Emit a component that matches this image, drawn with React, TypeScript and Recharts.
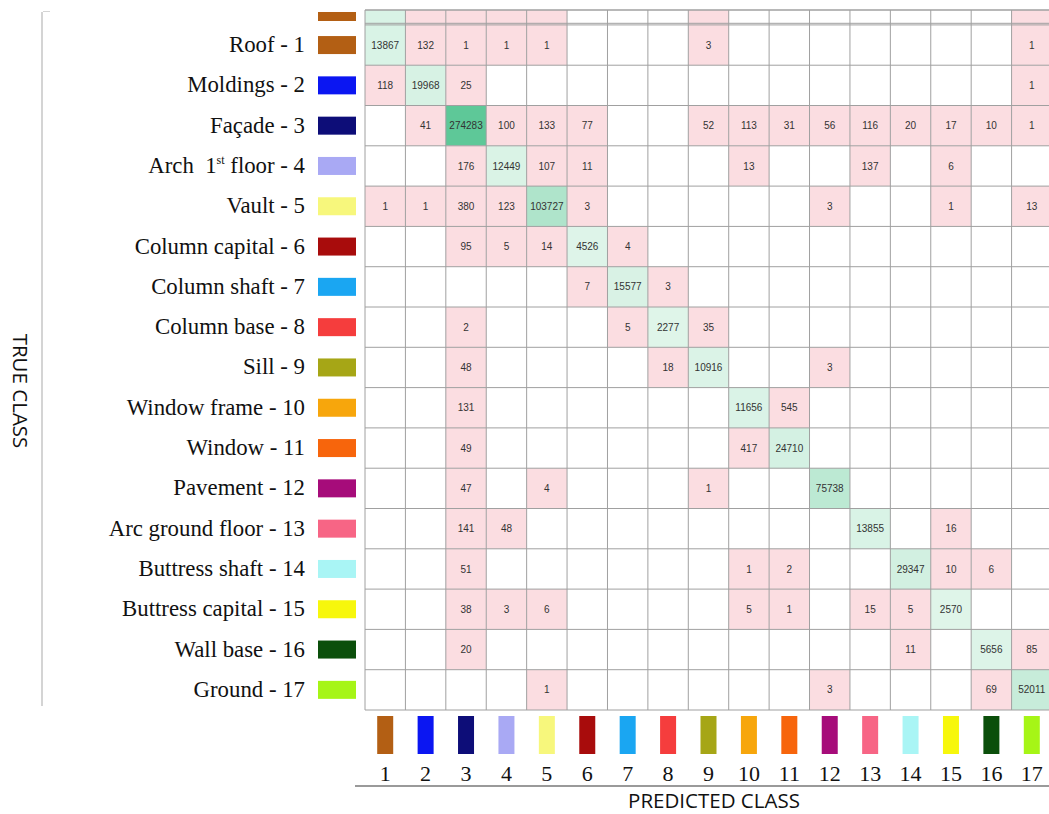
import React from "react"
import { ScatterChart, Scatter, XAxis, YAxis, ReferenceArea, ReferenceLine } from "recharts"

// true class labels (rows) and predicted class ids (columns)
const classNames = [
  "Roof - 1",
  "Moldings - 2",
  "Façade - 3",
  "Arch\u00a0 1st floor - 4",
  "Vault - 5",
  "Column capital - 6",
  "Column shaft - 7",
  "Column base - 8",
  "Sill - 9",
  "Window frame - 10",
  "Window - 11",
  "Pavement - 12",
  "Arc ground floor - 13",
  "Buttress shaft - 14",
  "Buttress capital - 15",
  "Wall base - 16",
  "Ground - 17",
]

const classIds = [1, 2, 3, 4, 5, 6, 7, 8, 9, 10, 11, 12, 13, 14, 15, 16, 17]

const classColors = [
  "#b35f14", "#0b16f2", "#0d0d78", "#a9a9f4", "#f7f77c", "#a80c0c",
  "#1aa6f2", "#f53d3d", "#a6a616", "#f7a60c", "#f7650c", "#a60c7a",
  "#f76585", "#a9f5f5", "#f7f70c", "#0b4f0b", "#a6f516",
]

// rows = true class, columns = predicted class, 0 = empty cell
const confusion = [
  [13867, 132, 1, 1, 1, 0, 0, 0, 3, 0, 0, 0, 0, 0, 0, 0, 1],
  [118, 19968, 25, 0, 0, 0, 0, 0, 0, 0, 0, 0, 0, 0, 0, 0, 1],
  [0, 41, 274283, 100, 133, 77, 0, 0, 52, 113, 31, 56, 116, 20, 17, 10, 1],
  [0, 0, 176, 12449, 107, 11, 0, 0, 0, 13, 0, 0, 137, 0, 6, 0, 0],
  [1, 1, 380, 123, 103727, 3, 0, 0, 0, 0, 0, 3, 0, 0, 1, 0, 13],
  [0, 0, 95, 5, 14, 4526, 4, 0, 0, 0, 0, 0, 0, 0, 0, 0, 0],
  [0, 0, 0, 0, 0, 7, 15577, 3, 0, 0, 0, 0, 0, 0, 0, 0, 0],
  [0, 0, 2, 0, 0, 0, 5, 2277, 35, 0, 0, 0, 0, 0, 0, 0, 0],
  [0, 0, 48, 0, 0, 0, 0, 18, 10916, 0, 0, 3, 0, 0, 0, 0, 0],
  [0, 0, 131, 0, 0, 0, 0, 0, 0, 11656, 545, 0, 0, 0, 0, 0, 0],
  [0, 0, 49, 0, 0, 0, 0, 0, 0, 417, 24710, 0, 0, 0, 0, 0, 0],
  [0, 0, 47, 0, 4, 0, 0, 0, 1, 0, 0, 75738, 0, 0, 0, 0, 0],
  [0, 0, 141, 48, 0, 0, 0, 0, 0, 0, 0, 0, 13855, 0, 16, 0, 0],
  [0, 0, 51, 0, 0, 0, 0, 0, 0, 1, 2, 0, 0, 29347, 10, 6, 0],
  [0, 0, 38, 3, 6, 0, 0, 0, 0, 5, 1, 0, 15, 5, 2570, 0, 0],
  [0, 0, 20, 0, 0, 0, 0, 0, 0, 0, 0, 0, 0, 11, 0, 5656, 85],
  [0, 0, 0, 0, 1, 0, 0, 0, 0, 0, 0, 3, 0, 0, 0, 69, 52011],
]

// the picture is cropped: a sliver of the first row shows again above the table
const Y_MIN = 0.13

const cells = confusion.flatMap((row, r) =>
  row.map((v, c) => ({ t: r + 1, p: c + 1, v })).filter((d) => d.v > 0)
)
const maxDiag = Math.max(...confusion.map((row, i) => row[i]))

function mix(a: number[], b: number[], k: number) {
  const ch = a.map((x, i) => Math.round(x + (b[i] - x) * k))
  return `rgb(${ch[0]},${ch[1]},${ch[2]})`
}

function cellFill(d: { t: number; p: number; v: number }) {
  if (d.t !== d.p) return "#fbdde1"
  return mix([224, 245, 234], [94, 200, 152], d.v / maxDiag)
}

const boundaries = [0.5, ...classIds.map((i) => i + 0.5)]

function TrueClassTick(props: any) {
  const { x, y, payload } = props
  const i = payload.value - 1
  const name = classNames[i]
  const m = name.match(/^(.*?\d)(st)(.*)$/)
  return (
    <g>
      <text
        x={x - 60}
        y={y}
        dy={7}
        textAnchor="end"
        fontFamily="'Liberation Serif', serif"
        fontSize={22.8}
        fill="#111"
        style={{ whiteSpace: "pre" }}
      >
        {m ? (
          <>
            {m[1]}
            <tspan fontSize={12} dy={-9}>{m[2]}</tspan>
            <tspan dy={9}>{m[3]}</tspan>
          </>
        ) : (
          name
        )}
      </text>
      <rect x={x - 47} y={y - 9} width={38} height={18} fill={classColors[i]} />
    </g>
  )
}

function PredictedTick(props: any) {
  const { x, y, payload } = props
  const i = payload.value - 1
  return (
    <g>
      <rect x={x - 8} y={y + 6} width={16} height={38} fill={classColors[i]} />
      <text
        x={x}
        y={y + 71}
        textAnchor="middle"
        fontFamily="'Liberation Serif', serif"
        fontSize={22}
        fill="#111"
      >
        {payload.value}
      </text>
    </g>
  )
}

export default function App() {
  return (
    <div
      style={{
        position: "absolute",
        left: 0,
        top: 0,
        width: 1049,
        height: 814,
        overflow: "hidden",
        background: "#fff",
      }}
    >
      <ScatterChart width={1052} height={814} margin={{ top: 10, right: 0, bottom: 0, left: 0 }}>
        <XAxis
          type="number"
          dataKey="p"
          domain={[0.5, 17.5]}
          ticks={classIds}
          allowDataOverflow
          interval={0}
          height={104}
          axisLine={false}
          tickLine={false}
          tickSize={0}
          tickMargin={0}
          tick={<PredictedTick />}
        />
        <YAxis
          type="number"
          dataKey="t"
          domain={[Y_MIN, 17.5]}
          ticks={classIds}
          allowDataOverflow
          reversed
          interval={0}
          width={365}
          axisLine={false}
          tickLine={false}
          tickSize={0}
          tickMargin={0}
          tick={<TrueClassTick />}
        />
        {/* cropped sliver of row 1 above the table */}
        {confusion[0].map((v, c) =>
          v > 0 ? (
            <ReferenceArea
              key={`top-${c}`}
              x1={c + 0.5}
              x2={c + 1.5}
              y1={Y_MIN}
              y2={0.5}
              fill={cellFill({ t: 1, p: c + 1, v })}
              fillOpacity={1}
              stroke="none"
            />
          ) : null
        )}
        {cells.map((d) => (
          <ReferenceArea
            key={`${d.t}-${d.p}`}
            x1={d.p - 0.5}
            x2={d.p + 0.5}
            y1={d.t - 0.5}
            y2={d.t + 0.5}
            fill={cellFill(d)}
            fillOpacity={1}
            stroke="none"
            label={{
              value: String(d.v),
              position: "center",
              fontSize: 10,
              fill: "#333",
              fontFamily: "'Liberation Sans', Arial, sans-serif",
            }}
          />
        ))}
        {boundaries.map((b) => (
          <ReferenceLine key={`v${b}`} x={b} stroke="#a0a0a0" strokeWidth={1} />
        ))}
        {boundaries.map((b) => (
          <ReferenceLine key={`h${b}`} y={b} stroke="#a0a0a0" strokeWidth={1} />
        ))}
        <ReferenceLine y={Y_MIN} stroke="#a0a0a0" strokeWidth={1.5} />
        <ReferenceLine y={0.46} stroke="#a0a0a0" strokeWidth={1} />
        <Scatter data={cells} fill="transparent" isAnimationActive={false} legendType="none" />
      </ScatterChart>
      {/* cropped swatch fragment of the repeated first row */}
      <div style={{ position: "absolute", left: 318, top: 12, width: 38, height: 9, background: classColors[0] }} />
      {/* left rule and true-class title */}
      <div style={{ position: "absolute", left: 41, top: 12, width: 2, height: 694, background: "#d4d4d4" }} />
      <div style={{ position: "absolute", left: 43, top: 11, width: 7, height: 1, background: "#d4d4d4" }} />
      <div
        style={{
          position: "absolute",
          left: 21,
          top: 391,
          transform: "translate(-50%, -50%) rotate(90deg)",
          fontFamily: "'Open Sans', sans-serif",
          fontSize: 20.5,
          color: "#111",
          whiteSpace: "nowrap",
        }}
      >
        TRUE CLASS
      </div>
      {/* bottom rule and predicted-class title */}
      <div style={{ position: "absolute", left: 355, top: 785, width: 700, height: 2, background: "#9a9a9a" }} />
      <div
        style={{
          position: "absolute",
          left: 714,
          top: 800,
          transform: "translate(-50%, -50%)",
          fontFamily: "'Open Sans', sans-serif",
          fontSize: 20.5,
          color: "#111",
          whiteSpace: "nowrap",
        }}
      >
        PREDICTED CLASS
      </div>
    </div>
  )
}
